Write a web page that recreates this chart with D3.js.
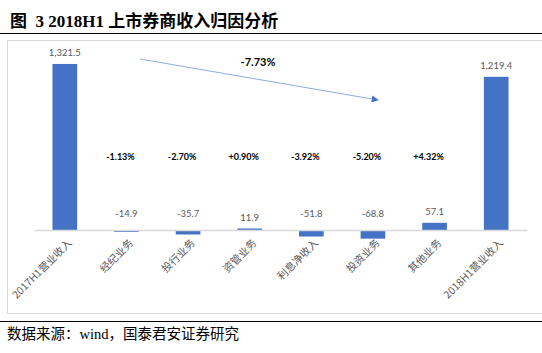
<!DOCTYPE html>
<html>
<head>
<meta charset="utf-8">
<script src="https://cdn.jsdelivr.net/npm/d3@7/dist/d3.min.js"></script>
<style>
  body { margin: 0; background: #fff; }
  svg { display: block; }
</style>
</head>
<body>
<div id="chart"></div>
<script>
// Chart data
const categories = ["2017H1营业收入", "经纪业务", "投行业务", "资管业务", "利息净收入", "投资业务", "其他业务", "2018H1营业收入"];
const values = [1321.5, -14.9, -35.7, 11.9, -51.8, -68.8, 57.1, 1219.4];
const valueLabels = ["1,321.5", "-14.9", "-35.7", "11.9", "-51.8", "-68.8", "57.1", "1,219.4"];
const pctLabels = ["", "-1.13%", "-2.70%", "+0.90%", "-3.92%", "-5.20%", "+4.32%", ""];
const totalChange = "-7.73%";

const width = 542, height = 353;
const svg = d3.select("#chart").append("svg")
    .attr("width", width)
    .attr("height", height);

const cjk = "'Noto Sans CJK SC', sans-serif";
const labelFont = "Lato, 'Noto Sans CJK SC', sans-serif";

// Title + rules
svg.append("text")
    .attr("x", 10).attr("y", 27)
    .style("font-family", "'Liberation Serif', 'Noto Sans CJK SC', serif")
    .style("font-weight", "bold")
    .style("font-size", "17px")
    .style("white-space", "pre")
    .text("图  3 2018H1 上市券商收入归因分析");

svg.append("line")
    .attr("x1", 0).attr("x2", width)
    .attr("y1", 33.5).attr("y2", 33.5)
    .attr("stroke", "#000").attr("stroke-width", 1.2);

svg.append("line")
    .attr("x1", 0).attr("x2", width)
    .attr("y1", 321.5).attr("y2", 321.5)
    .attr("stroke", "#000").attr("stroke-width", 1.2);

svg.append("text")
    .attr("x", 7).attr("y", 339)
    .style("font-family", "'Liberation Serif', 'Noto Sans CJK SC', serif")
    .style("font-size", "14.5px")
    .text("数据来源：wind，国泰君安证券研究");

// Chart frame
svg.append("rect")
    .attr("x", 7.5).attr("y", 40.5)
    .attr("width", 545).attr("height", 273)
    .attr("fill", "none")
    .attr("stroke", "#d9d9d9");

// Scales
const x = d3.scaleBand()
    .domain(categories)
    .range([34, 527])
    .paddingInner(0.6)
    .paddingOuter(0.3);

const y = d3.scaleLinear()
    .domain([0, 1400])
    .range([230, 54.1]);

const g = svg.append("g");

// Bars
g.selectAll(".bar")
    .data(categories)
    .enter()
    .append("rect")
    .attr("class", "bar")
    .attr("x", d => x(d))
    .attr("width", x.bandwidth())
    .attr("y", (d, i) => Math.min(y(values[i]), y(0)))
    .attr("height", (d, i) => Math.abs(y(values[i]) - y(0)))
    .attr("fill", "#4472c4");

// Baseline axis
const xAxis = d3.axisBottom(x).tickSize(0).tickPadding(0);
const axisG = svg.append("g")
    .attr("transform", `translate(0,${y(0)})`)
    .call(xAxis);
axisG.select(".domain").attr("stroke", "#d9d9d9").attr("stroke-width", 1.5);
axisG.selectAll(".tick text")
    .attr("text-anchor", "end")
    .attr("transform", "translate(5,11) rotate(-45)")
    .attr("dy", "0.35em")
    .attr("fill", "#595959")
    .style("font-family", cjk)
    .style("font-size", "10.5px");

// Value labels
g.selectAll(".val")
    .data(categories)
    .enter()
    .append("text")
    .attr("class", "val")
    .attr("x", d => x(d) + x.bandwidth() / 2)
    .attr("y", (d, i) => values[i] >= 0 ? y(values[i]) - 8 : y(0) - 13)
    .attr("text-anchor", "middle")
    .attr("fill", "#595959")
    .style("font-family", labelFont)
    .style("font-size", "9.5px")
    .text((d, i) => valueLabels[i]);

// Percent contribution labels
g.selectAll(".pct")
    .data(categories.filter((d, i) => pctLabels[i]))
    .enter()
    .append("text")
    .attr("class", "pct")
    .attr("x", d => x(d) + x.bandwidth() / 2 - 6)
    .attr("y", 160)
    .attr("text-anchor", "middle")
    .attr("fill", "#000")
    .style("font-family", labelFont)
    .style("font-weight", "bold")
    .style("font-size", "9px")
    .text(d => pctLabels[categories.indexOf(d)]);

// Trend arrow
svg.append("defs").append("marker")
    .attr("id", "arrow")
    .attr("viewBox", "0 0 10 10")
    .attr("refX", 9).attr("refY", 5)
    .attr("markerWidth", 7).attr("markerHeight", 7)
    .attr("markerUnits", "userSpaceOnUse")
    .attr("orient", "auto")
    .append("path")
    .attr("d", "M0,0 L10,5 L0,10 Z")
    .attr("fill", "#4472c4");

svg.append("line")
    .attr("x1", 140).attr("y1", 59)
    .attr("x2", 378).attr("y2", 100)
    .attr("stroke", "#8faadc")
    .attr("stroke-width", 1)
    .attr("marker-end", "url(#arrow)");

svg.append("text")
    .attr("x", 258).attr("y", 66)
    .attr("text-anchor", "middle")
    .style("font-family", labelFont)
    .style("font-weight", "bold")
    .style("font-size", "11px")
    .text(totalChange);
</script>
</body>
</html>
